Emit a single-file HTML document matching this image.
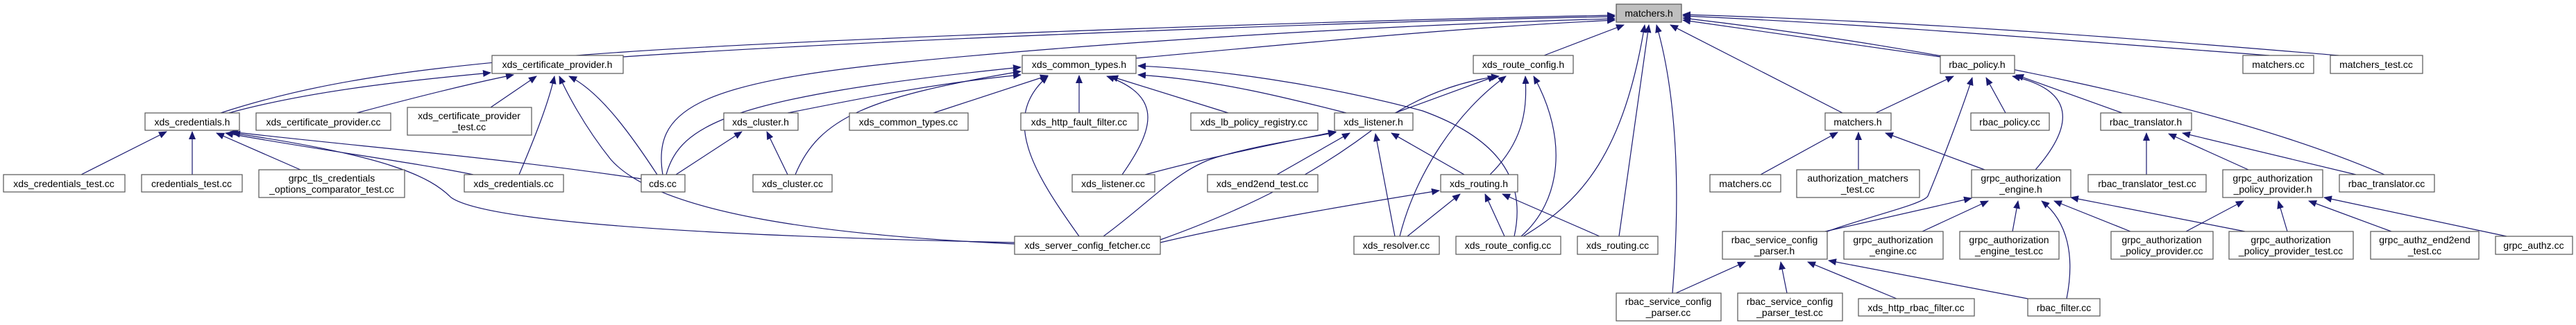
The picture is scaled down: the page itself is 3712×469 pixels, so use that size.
<!DOCTYPE html>
<html><head><meta charset="utf-8"><style>
html,body{margin:0;padding:0;background:#fff;}
svg{display:block;}
text{font-family:"Liberation Sans",sans-serif;font-size:14px;fill:#000;text-anchor:middle;}
.e{fill:none;stroke:#191970;stroke-width:1.2;marker-end:url(#a);}
.n{fill:#fff;stroke:#555;stroke-width:1.2;}
</style></head><body>
<svg width="3712" height="469" viewBox="0 0 3712 469" xmlns="http://www.w3.org/2000/svg">
<defs><marker id="a" markerUnits="userSpaceOnUse" markerWidth="12" markerHeight="10" refX="11" refY="5" orient="auto"><path d="M0,0 L12,5 L0,10 z" fill="#191970"/></marker></defs>
<g>
<!-- to matchers.h -->
<path class="e" d="M318,163 C450,120 600,95 900,75 S1900,30 2327,22"/>
<path class="e" d="M898,82 C1300,55 2000,30 2327,24"/>
<path class="e" d="M955,252 C940,160 1000,120 1300,90 S2000,36 2327,27"/>
<path class="e" d="M1637,84 C1900,60 2100,40 2327,29"/>
<path class="e" d="M2225,80 L2340,36"/>
<path class="e" d="M2195,341 C2280,290 2340,220 2370,36"/>
<path class="e" d="M2333,341 L2376,36"/>
<path class="e" d="M2410,423 C2420,300 2420,150 2387,36"/>
<path class="e" d="M2655,163 L2407,36"/>
<path class="e" d="M2796,82 L2425,29"/>
<path class="e" d="M3436,252 C3200,150 2800,70 2425,26"/>
<path class="e" d="M3270,80 C3000,60 2700,35 2425,23"/>
<path class="e" d="M3370,80 C3100,58 2800,32 2425,21"/>
<!-- to cert provider.h -->
<path class="e" d="M330,163 C450,130 600,115 707,105"/>
<path class="e" d="M514,163 C600,140 680,120 740,108"/>
<path class="e" d="M707,155 L773,110"/>
<path class="e" d="M748,252 C770,200 790,150 799,110"/>
<path class="e" d="M1462,352 C1200,340 950,310 880,230 C840,180 815,130 806,110"/>
<path class="e" d="M947,252 C900,180 860,130 820,110"/>
<!-- to credentials.h -->
<path class="e" d="M117,252 L240,190"/>
<path class="e" d="M277,252 L277,190"/>
<path class="e" d="M433,245 L312,192"/>
<path class="e" d="M682,252 C600,235 450,215 325,192"/>
<path class="e" d="M924,258 C700,225 500,210 332,190"/>
<path class="e" d="M1462,350 C1000,340 700,320 650,285 C620,255 560,225 335,192"/>
<!-- to common_types.h -->
<path class="e" d="M1345,163 L1510,109"/>
<path class="e" d="M1555,163 L1555,109"/>
<path class="e" d="M1770,163 L1600,110"/>
<path class="e" d="M1617,252 C1660,190 1680,140 1595,110"/>
<path class="e" d="M1555,341 C1490,250 1440,170 1510,110"/>
<path class="e" d="M1940,163 C1850,140 1750,115 1640,108"/>
<path class="e" d="M2182,341 C2200,260 2160,200 2050,160 C1900,120 1750,100 1640,95"/>
<path class="e" d="M960,252 C980,180 1050,140 1471,97"/>
<path class="e" d="M1146,252 C1180,170 1250,140 1471,103"/>
<path class="e" d="M1135,163 C1250,140 1350,120 1471,108"/>
<!-- cluster.h -->
<path class="e" d="M974,252 L1069,190"/>
<path class="e" d="M1135,252 L1105,190"/>
<!-- listener.h -->
<path class="e" d="M1650,252 C1750,225 1850,205 1925,190"/>
<path class="e" d="M1590,341 C1660,290 1700,240 1760,225 C1820,208 1880,200 1925,191"/>
<path class="e" d="M1840,252 L1945,192"/>
<path class="e" d="M2010,341 L1982,193"/>
<path class="e" d="M2110,252 L2005,192"/>
<!-- route_config.h -->
<path class="e" d="M2010,163 L2155,110"/>
<path class="e" d="M1672,346 C1800,300 1900,250 2000,170 C2060,130 2120,115 2160,110"/>
<path class="e" d="M2017,341 C2040,250 2100,160 2170,110"/>
<path class="e" d="M2147,252 C2200,200 2200,150 2198,110"/>
<path class="e" d="M2192,341 C2250,290 2260,200 2210,110"/>
<!-- routing.h -->
<path class="e" d="M1672,350 C1800,320 1950,295 2074,275"/>
<path class="e" d="M2028,341 L2104,280"/>
<path class="e" d="M2168,341 L2140,280"/>
<path class="e" d="M2305,341 L2165,280"/>
<!-- matchers.h (2) -->
<path class="e" d="M2537,252 L2648,191"/>
<path class="e" d="M2678,245 L2678,191"/>
<path class="e" d="M2860,245 L2717,192"/>
<!-- rbac_policy.h -->
<path class="e" d="M2703,163 L2815,110"/>
<path class="e" d="M2633,334 C2700,310 2770,295 2778,283 C2800,230 2830,150 2842,112"/>
<path class="e" d="M2890,163 L2862,112"/>
<path class="e" d="M2933,245 C2990,180 2990,130 2900,110"/>
<path class="e" d="M3058,163 L2905,108"/>
<!-- rbac_translator.h -->
<path class="e" d="M3093,252 L3093,192"/>
<path class="e" d="M3240,245 L3125,193"/>
<path class="e" d="M3395,252 L3145,192"/>
<!-- grpc_authorization_engine.h -->
<path class="e" d="M2630,334 L2841,286"/>
<path class="e" d="M2770,334 L2865,290"/>
<path class="e" d="M2900,334 L2908,290"/>
<path class="e" d="M2978,431 C2990,370 2980,320 2942,290"/>
<path class="e" d="M3070,334 L2960,290"/>
<path class="e" d="M3235,334 L2984,285"/>
<!-- parser.h -->
<path class="e" d="M2415,423 L2515,378"/>
<path class="e" d="M2575,423 L2566,378"/>
<path class="e" d="M2733,431 L2605,378"/>
<path class="e" d="M2922,431 L2635,376"/>
<!-- gapp.h -->
<path class="e" d="M3150,334 L3233,290"/>
<path class="e" d="M3296,334 L3283,290"/>
<path class="e" d="M3446,334 L3327,290"/>
<path class="e" d="M3612,341 L3349,285"/>
</g>
<g>
<rect x="2329" y="6" width="94" height="26" fill="#bfbfbf" stroke="#555" stroke-width="1.2"/><text x="2376" y="24">matchers.h</text>
<rect class="n" x="709" y="80" width="189" height="26"/><text x="803" y="98">xds_certificate_provider.h</text>
<rect class="n" x="1473" y="80" width="164" height="26"/><text x="1555" y="98">xds_common_types.h</text>
<rect class="n" x="2123" y="80" width="144" height="26"/><text x="2195" y="98">xds_route_config.h</text>
<rect class="n" x="2796" y="80" width="107" height="26"/><text x="2849" y="98">rbac_policy.h</text>
<rect class="n" x="3232" y="80" width="102" height="26"/><text x="3283" y="98">matchers.cc</text>
<rect class="n" x="3358" y="80" width="133" height="26"/><text x="3424" y="98">matchers_test.cc</text>

<rect class="n" x="209" y="163" width="136" height="25"/><text x="277" y="181">xds_credentials.h</text>
<rect class="n" x="369" y="163" width="194" height="25"/><text x="466" y="181">xds_certificate_provider.cc</text>
<rect class="n" x="587" y="155" width="179" height="40"/><text x="676" y="172">xds_certificate_provider</text><text x="676" y="188">_test.cc</text>
<rect class="n" x="1043" y="163" width="107" height="25"/><text x="1096" y="181">xds_cluster.h</text>
<rect class="n" x="1224" y="163" width="171" height="25"/><text x="1309" y="181">xds_common_types.cc</text>
<rect class="n" x="1471" y="163" width="169" height="25"/><text x="1555" y="181">xds_http_fault_filter.cc</text>
<rect class="n" x="1716" y="163" width="183" height="25"/><text x="1807" y="181">xds_lb_policy_registry.cc</text>
<rect class="n" x="1923" y="163" width="113" height="25"/><text x="1979" y="181">xds_listener.h</text>
<rect class="n" x="2630" y="163" width="95" height="25"/><text x="2677" y="181">matchers.h</text>
<rect class="n" x="2840" y="163" width="113" height="25"/><text x="2896" y="181">rbac_policy.cc</text>
<rect class="n" x="3027" y="163" width="131" height="25"/><text x="3092" y="181">rbac_translator.h</text>

<rect class="n" x="5" y="252" width="175" height="25"/><text x="92" y="270">xds_credentials_test.cc</text>
<rect class="n" x="204" y="252" width="145" height="25"/><text x="276" y="270">credentials_test.cc</text>
<rect class="n" x="373" y="245" width="210" height="40"/><text x="478" y="262">grpc_tls_credentials</text><text x="478" y="278">_options_comparator_test.cc</text>
<rect class="n" x="669" y="252" width="143" height="25"/><text x="740" y="270">xds_credentials.cc</text>
<rect class="n" x="924" y="252" width="63" height="25"/><text x="955" y="270">cds.cc</text>
<rect class="n" x="1085" y="252" width="114" height="25"/><text x="1142" y="270">xds_cluster.cc</text>
<rect class="n" x="1545" y="252" width="119" height="25"/><text x="1604" y="270">xds_listener.cc</text>
<rect class="n" x="1740" y="252" width="159" height="25"/><text x="1819" y="270">xds_end2end_test.cc</text>
<rect class="n" x="2076" y="252" width="111" height="25"/><text x="2131" y="270">xds_routing.h</text>
<rect class="n" x="2464" y="252" width="102" height="25"/><text x="2515" y="270">matchers.cc</text>
<rect class="n" x="2589" y="245" width="177" height="40"/><text x="2677" y="262">authorization_matchers</text><text x="2677" y="278">_test.cc</text>
<rect class="n" x="2841" y="245" width="143" height="40"/><text x="2912" y="262">grpc_authorization</text><text x="2912" y="278">_engine.h</text>
<rect class="n" x="3009" y="252" width="170" height="25"/><text x="3094" y="270">rbac_translator_test.cc</text>
<rect class="n" x="3203" y="245" width="144" height="40"/><text x="3275" y="262">grpc_authorization</text><text x="3275" y="278">_policy_provider.h</text>
<rect class="n" x="3371" y="252" width="137" height="25"/><text x="3439" y="270">rbac_translator.cc</text>

<rect class="n" x="1462" y="341" width="210" height="26"/><text x="1567" y="359">xds_server_config_fetcher.cc</text>
<rect class="n" x="1951" y="341" width="123" height="26"/><text x="2012" y="359">xds_resolver.cc</text>
<rect class="n" x="2098" y="341" width="151" height="26"/><text x="2173" y="359">xds_route_config.cc</text>
<rect class="n" x="2273" y="341" width="116" height="26"/><text x="2331" y="359">xds_routing.cc</text>
<rect class="n" x="2482" y="334" width="151" height="40"/><text x="2557" y="351">rbac_service_config</text><text x="2557" y="367">_parser.h</text>
<rect class="n" x="2657" y="334" width="143" height="40"/><text x="2728" y="351">grpc_authorization</text><text x="2728" y="367">_engine.cc</text>
<rect class="n" x="2824" y="334" width="143" height="40"/><text x="2895" y="351">grpc_authorization</text><text x="2895" y="367">_engine_test.cc</text>
<rect class="n" x="3042" y="334" width="147" height="40"/><text x="3115" y="351">grpc_authorization</text><text x="3115" y="367">_policy_provider.cc</text>
<rect class="n" x="3212" y="334" width="179" height="40"/><text x="3301" y="351">grpc_authorization</text><text x="3301" y="367">_policy_provider_test.cc</text>
<rect class="n" x="3416" y="334" width="156" height="40"/><text x="3494" y="351">grpc_authz_end2end</text><text x="3494" y="367">_test.cc</text>
<rect class="n" x="3596" y="341" width="111" height="26"/><text x="3651" y="359">grpc_authz.cc</text>

<rect class="n" x="2329" y="423" width="151" height="40"/><text x="2404" y="440">rbac_service_config</text><text x="2404" y="456">_parser.cc</text>
<rect class="n" x="2504" y="423" width="151" height="40"/><text x="2579" y="440">rbac_service_config</text><text x="2579" y="456">_parser_test.cc</text>
<rect class="n" x="2678" y="431" width="167" height="25"/><text x="2761" y="449">xds_http_rbac_filter.cc</text>
<rect class="n" x="2922" y="431" width="104" height="25"/><text x="2974" y="449">rbac_filter.cc</text>
</g>
</svg>
</body></html>
